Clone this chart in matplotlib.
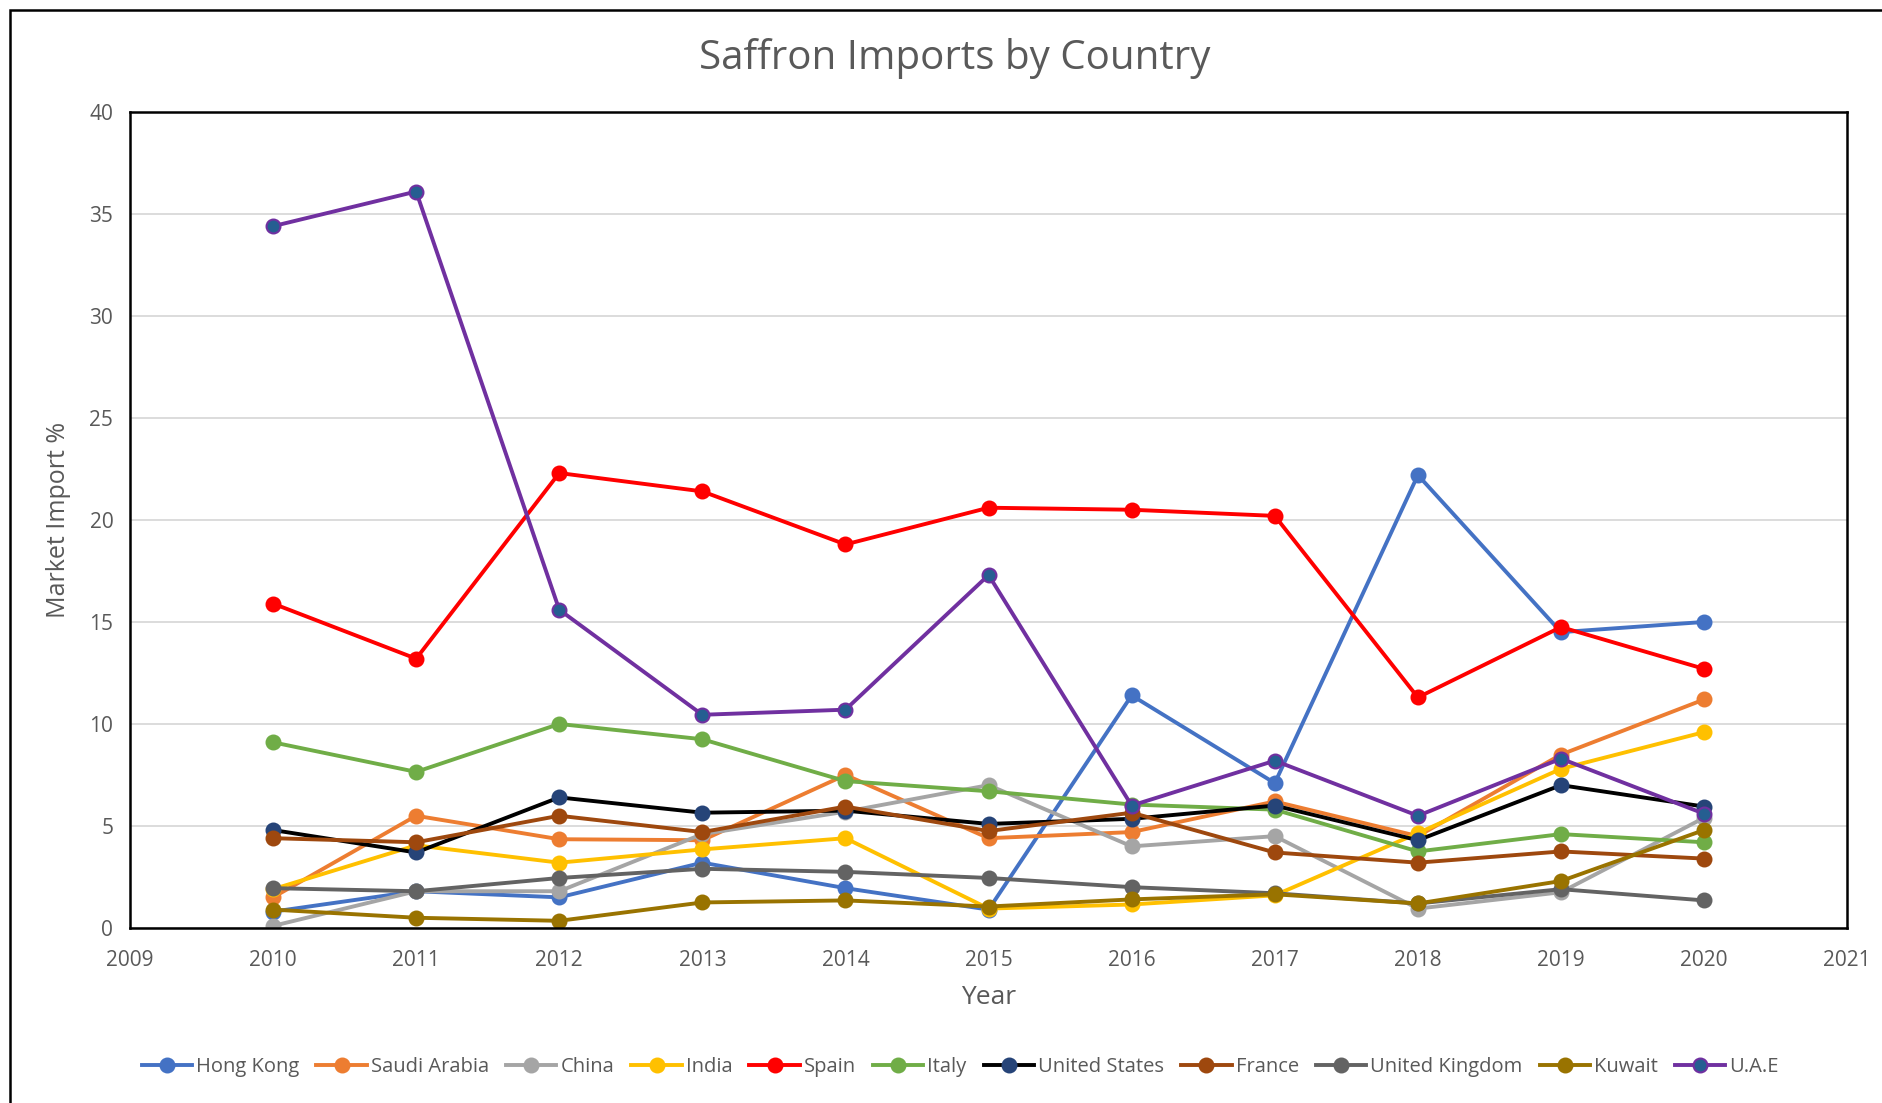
import matplotlib
matplotlib.use("Agg")
import matplotlib.pyplot as plt
from matplotlib.patches import Rectangle

plt.rcParams["font.family"] = ["Open Sans", "DejaVu Sans"]

years = [2010, 2011, 2012, 2013, 2014, 2015, 2016, 2017, 2018, 2019, 2020]

hong_kong = [0.8, 1.8, 1.5, 3.2, 1.95, 0.9, 11.4, 7.1, 22.2, 14.5, 15.0]
saudi_arabia = [1.5, 5.5, 4.35, 4.3, 7.5, 4.4, 4.7, 6.2, 4.5, 8.5, 11.2]
china = [0.1, 1.8, 1.8, 4.6, 5.7, 7.0, 4.0, 4.5, 0.95, 1.75, 5.4]
india = [1.9, 4.05, 3.2, 3.85, 4.4, 0.95, 1.15, 1.6, 4.65, 7.8, 9.6]
spain = [15.9, 13.2, 22.3, 21.4, 18.8, 20.6, 20.5, 20.2, 11.3, 14.75, 12.7]
italy = [9.1, 7.65, 10.0, 9.25, 7.2, 6.7, 6.05, 5.8, 3.75, 4.6, 4.2]
united_states = [4.8, 3.7, 6.4, 5.65, 5.75, 5.1, 5.35, 6.0, 4.3, 7.0, 5.95]
france = [4.4, 4.2, 5.5, 4.7, 5.95, 4.75, 5.65, 3.7, 3.2, 3.75, 3.4]
united_kingdom = [1.95, 1.8, 2.45, 2.9, 2.75, 2.45, 2.0, 1.7, 1.2, 1.9, 1.35]
kuwait = [0.9, 0.5, 0.35, 1.25, 1.35, 1.05, 1.4, 1.65, 1.2, 2.3, 4.8]
uae = [34.4, 36.1, 15.6, 10.45, 10.7, 17.3, 6.0, 8.2, 5.5, 8.3, 5.6]

series = [
    ("Hong Kong", hong_kong, "#4472C4", "#4472C4", "#4472C4"),
    ("Saudi Arabia", saudi_arabia, "#ED7D31", "#ED7D31", "#ED7D31"),
    ("China", china, "#A5A5A5", "#A5A5A5", "#A5A5A5"),
    ("India", india, "#FFC000", "#FFC000", "#FFC000"),
    ("Spain", spain, "#FF0000", "#FF0000", "#FF0000"),
    ("Italy", italy, "#70AD47", "#70AD47", "#70AD47"),
    ("United States", united_states, "#000000", "#264478", "#264478"),
    ("France", france, "#9E480E", "#9E480E", "#9E480E"),
    ("United Kingdom", united_kingdom, "#636363", "#636363", "#636363"),
    ("Kuwait", kuwait, "#997300", "#997300", "#997300"),
    ("U.A.E", uae, "#7030A0", "#255E91", "#7030A0"),
]

fig = plt.figure(figsize=(18.83, 11.03), dpi=100)
ax = fig.add_axes([0.069, 0.1587, 0.912, 0.7398])

for name, vals, lc, mfc, mec in series:
    ax.plot(years, vals, color=lc, lw=2.8, marker="o", markersize=10,
            markerfacecolor=mfc, markeredgecolor=mec, markeredgewidth=1.5,
            label=name)

ax.set_xlim(2009, 2021)
ax.set_ylim(0, 40)
ax.set_xticks(range(2009, 2022))
ax.set_yticks(range(0, 41, 5))
ax.yaxis.grid(True, color="#D9D9D9", lw=1.3)
ax.set_axisbelow(True)
for s in ax.spines.values():
    s.set_color("black")
    s.set_linewidth(1.8)
ax.tick_params(axis="both", length=0, labelsize=15, labelcolor="#595959")
ax.tick_params(axis="x", pad=16)
ax.tick_params(axis="y", pad=12)

ax.set_xlabel("Year", fontsize=19, color="#595959", labelpad=10)
ax.set_ylabel("Market Import %", fontsize=18, color="#595959", labelpad=13)

fig.text(0.507, 0.947, "Saffron Imports by Country", ha="center", va="center",
         fontsize=29, color="#595959")

fig.legend(loc="center", bbox_to_anchor=(0.510, 0.033), ncol=11, frameon=False,
           fontsize=14.5, labelcolor="#595959", handlelength=2.5,
           handletextpad=0.2, columnspacing=0.85)

fig.patches.append(Rectangle((10 / 1883, -0.5), 2, 1 - 10 / 1103 + 0.5,
                             transform=fig.transFigure, fill=False,
                             edgecolor="black", lw=1.8))

fig.savefig("out.png", dpi=100)
